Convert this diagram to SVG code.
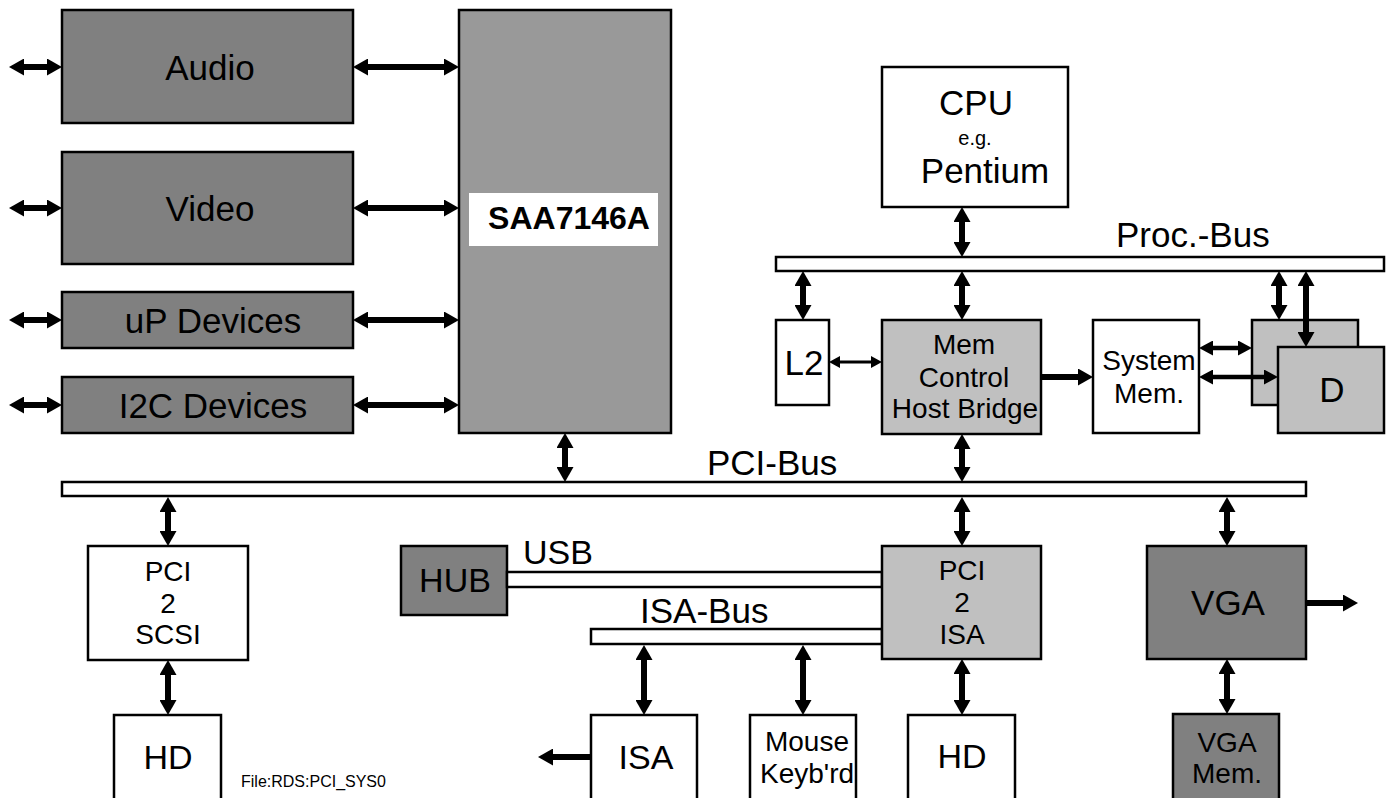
<svg xmlns="http://www.w3.org/2000/svg" width="1394" height="798" viewBox="0 0 1394 798">
<style>
  .box{stroke:#000;stroke-width:2.5}
  .dark{fill:#808080}
  .mid{fill:#999999}
  .light{fill:#c0c0c0}
  .white{fill:#fff}
  text{font-family:"Liberation Sans",Arial,sans-serif;fill:#000}
  .big{font-size:35px}
  .med{font-size:28px}
  .c{text-anchor:middle}
  .a{stroke:#000;stroke-width:6;fill:none}
  .am{stroke:#000;stroke-width:4.5;fill:none}
  .as{stroke:#000;stroke-width:3;fill:none}
  .d{marker-start:url(#hb);marker-end:url(#hb)}
  .s{marker-end:url(#hb)}
  .dm{marker-start:url(#hm);marker-end:url(#hm)}
  .ds{marker-start:url(#hs);marker-end:url(#hs)}
</style>
<defs>
  <marker id="hb" viewBox="0 0 15 17" refX="1" refY="8.5" markerWidth="15" markerHeight="17" markerUnits="userSpaceOnUse" orient="auto-start-reverse"><path d="M0,0 L15,8.5 L0,17 z" fill="#000"/></marker>
  <marker id="hm" viewBox="0 0 14 15" refX="1" refY="7.5" markerWidth="14" markerHeight="15" markerUnits="userSpaceOnUse" orient="auto-start-reverse"><path d="M0,0 L14,7.5 L0,15 z" fill="#000"/></marker>
  <marker id="hs" viewBox="0 0 11 12" refX="1" refY="6" markerWidth="11" markerHeight="12" markerUnits="userSpaceOnUse" orient="auto-start-reverse"><path d="M0,0 L11,6 L0,12 z" fill="#000"/></marker>
</defs>
<rect width="1394" height="798" fill="#fff"/>

<g id="audio"><rect class="box dark" x="62" y="10" width="291" height="113"/><text class="big c" x="210" y="80">Audio</text></g>
<g id="video"><rect class="box dark" x="62" y="152" width="291" height="112"/><text class="big c" x="210" y="221">Video</text></g>
<g id="up-devices"><rect class="box dark" x="62" y="292" width="291" height="56"/><text class="big c" x="213" y="333">uP Devices</text></g>
<g id="i2c-devices"><rect class="box dark" x="62" y="377" width="291" height="56"/><text class="big c" x="213" y="418">I2C Devices</text></g>
<g id="saa7146a"><rect class="box mid" x="459" y="10" width="212" height="423"/><rect x="469" y="193" width="189" height="53" fill="#fff"/><text class="c" x="569" y="229" style="font-size:32px;font-weight:bold">SAA7146A</text></g>

<g id="cpu"><rect class="box white" x="882" y="67" width="186" height="140"/><text class="big c" x="976" y="115">CPU</text><text class="c" x="975" y="145" style="font-size:20px">e.g.</text><text class="big c" x="985" y="183">Pentium</text></g>
<g id="proc-bus"><rect class="box white" x="776" y="257" width="608" height="14"/><text class="big" x="1116" y="247">Proc.-Bus</text></g>
<g id="l2"><rect class="box white" x="776" y="320" width="53" height="85"/><text class="big c" x="804" y="375">L2</text></g>
<g id="mem-control"><rect class="box light" x="882" y="320" width="159" height="114"/><text class="med c" x="964" y="354">Mem</text><text class="med c" x="964" y="387">Control</text><text class="med c" x="965" y="418">Host Bridge</text></g>
<g id="system-mem"><rect class="box white" x="1093" y="320" width="106" height="113"/><text class="med c" x="1149" y="370">System</text><text class="med c" x="1149" y="403">Mem.</text></g>
<g id="d-back"><rect class="box light" x="1252" y="320" width="106" height="85"/></g>
<g id="d-front"><rect class="box light" x="1278" y="347" width="106" height="86"/><text class="big c" x="1332" y="402">D</text></g>

<g id="pci-bus"><rect class="box white" x="62" y="482" width="1244" height="14"/><text class="big" x="707" y="475">PCI-Bus</text></g>

<g id="pci2scsi"><rect class="box white" x="88" y="546" width="160" height="114"/><text class="med c" x="168" y="581">PCI</text><text class="med c" x="168" y="613">2</text><text class="med c" x="168" y="644">SCSI</text></g>
<g id="hd-scsi"><rect class="box white" x="114" y="715" width="107" height="90"/><text class="c" x="168" y="769" style="font-size:34px">HD</text></g>
<g id="file-label"><text x="241" y="787" style="font-size:16px">File:RDS:PCI_SYS0</text></g>

<g id="hub"><rect class="box dark" x="401" y="546" width="106" height="69"/><text class="c" x="455" y="592" style="font-size:34px">HUB</text></g>
<g id="usb-bus"><rect class="box white" x="507" y="572" width="375" height="15"/><text x="523" y="564" style="font-size:34px">USB</text></g>
<g id="isa-bus"><rect class="box white" x="591" y="629" width="291" height="15"/><text class="big" x="640" y="623">ISA-Bus</text></g>
<g id="pci2isa"><rect class="box light" x="882" y="546" width="159" height="113"/><text class="med c" x="962" y="580">PCI</text><text class="med c" x="962" y="612">2</text><text class="med c" x="962" y="644">ISA</text></g>
<g id="isa"><rect class="box white" x="591" y="715" width="106" height="90"/><text class="c" x="646" y="769" style="font-size:34px">ISA</text></g>
<g id="mouse-keybd"><rect class="box white" x="750" y="715" width="106" height="90"/><text class="med c" x="807" y="751">Mouse</text><text class="med c" x="807" y="783">Keyb'rd</text></g>
<g id="hd-isa"><rect class="box white" x="908" y="715" width="107" height="90"/><text class="c" x="962" y="768" style="font-size:34px">HD</text></g>
<g id="vga"><rect class="box dark" x="1147" y="546" width="159" height="113"/><text class="big c" x="1228" y="615">VGA</text></g>
<g id="vga-mem"><rect class="box dark" x="1173" y="714" width="106" height="91"/><text class="med c" x="1227" y="752">VGA</text><text class="med c" x="1227" y="783">Mem.</text></g>

<g id="connectors">
  <line class="a d" x1="23" y1="67" x2="48" y2="67"/>
  <line class="a d" x1="23" y1="208" x2="48" y2="208"/>
  <line class="a d" x1="23" y1="320" x2="48" y2="320"/>
  <line class="a d" x1="23" y1="405" x2="48" y2="405"/>
  <line class="a d" x1="367" y1="67" x2="445" y2="67"/>
  <line class="a d" x1="367" y1="208" x2="445" y2="208"/>
  <line class="a d" x1="367" y1="320" x2="445" y2="320"/>
  <line class="a d" x1="367" y1="405" x2="445" y2="405"/>
  <line class="a d" x1="565" y1="447" x2="565" y2="468"/>
  <line class="a d" x1="962" y1="221" x2="962" y2="243"/>
  <line class="a d" x1="803" y1="285" x2="803" y2="306"/>
  <line class="a d" x1="962" y1="285" x2="962" y2="306"/>
  <line class="a d" x1="1279" y1="285" x2="1279" y2="306"/>
  <line class="a d" x1="1306" y1="285" x2="1306" y2="333"/>
  <line class="a d" x1="962" y1="448" x2="962" y2="468"/>
  <line class="as ds" x1="839" y1="362" x2="872" y2="362"/>
  <line class="a s" x1="1041" y1="377" x2="1079" y2="377"/>
  <line class="am dm" x1="1212" y1="348" x2="1239" y2="348"/>
  <line class="am dm" x1="1212" y1="377" x2="1265" y2="377"/>
  <line class="a d" x1="168" y1="511" x2="168" y2="532"/>
  <line class="a d" x1="168" y1="674" x2="168" y2="701"/>
  <line class="a d" x1="962" y1="511" x2="962" y2="532"/>
  <line class="a d" x1="962" y1="673" x2="962" y2="701"/>
  <line class="a d" x1="1227" y1="511" x2="1227" y2="532"/>
  <line class="a d" x1="1227" y1="673" x2="1227" y2="700"/>
  <line class="a s" x1="1306" y1="603" x2="1344" y2="603"/>
  <line class="a d" x1="644" y1="659" x2="644" y2="701"/>
  <line class="a d" x1="803" y1="659" x2="803" y2="701"/>
  <line class="a s" x1="591" y1="757" x2="552" y2="757"/>
</g>
</svg>
